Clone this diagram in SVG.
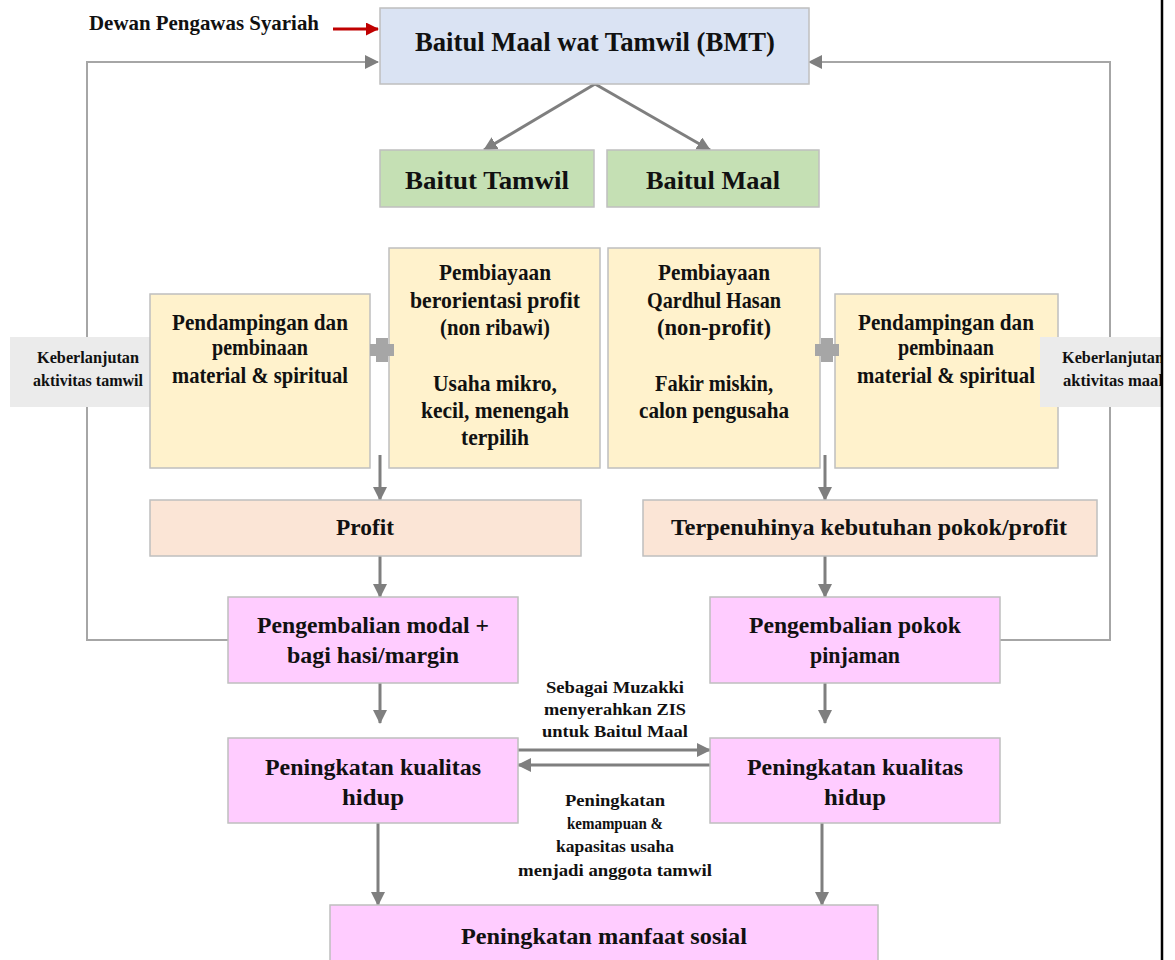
<svg xmlns="http://www.w3.org/2000/svg" width="1175" height="960" viewBox="0 0 1175 960">
<defs>
<marker id="ah" viewBox="0 0 14 14" refX="13" refY="7" markerWidth="14" markerHeight="14" orient="auto" markerUnits="userSpaceOnUse"><path d="M0,0 L14,7 L0,14 z" fill="#7f7f7f"/></marker>
<marker id="ahr" viewBox="0 0 14 14" refX="13" refY="7" markerWidth="13" markerHeight="13" orient="auto" markerUnits="userSpaceOnUse"><path d="M0,0 L14,7 L0,14 z" fill="#c00000"/></marker>
<style>
text{font-family:"Liberation Serif","Times New Roman",Times,serif;font-weight:bold;fill:#111;text-anchor:middle}
.t27{font-size:27px}
.t26{font-size:26px}
.t23{font-size:23px}
.t17{font-size:17px}
.box{stroke:#bfbfbf;stroke-width:1.5}
.blue{fill:#dae3f3}.green{fill:#c5e0b4}.yel{fill:#fff2cc}.peach{fill:#fbe5d6}.pink{fill:#ffccff}.grey{fill:#ebebeb;stroke:none}
.c{fill:none;stroke:#7f7f7f;stroke-width:3}
.ln{fill:none;stroke:#a6a6a6;stroke-width:2}
.plus{fill:#a6a6a6}
</style>
</defs>
<rect width="1175" height="960" fill="#fff"/>

<g id="connectors">
<path class="ln" d="M228,640 H87 V62 H378" marker-end="url(#ah)"/>
<path class="ln" d="M1000,640 H1110 V62 H809" marker-end="url(#ah)"/>
<path class="c" d="M595,84 L484,150" marker-end="url(#ah)"/>
<path class="c" d="M595,84 L710,150" marker-end="url(#ah)"/>
<path class="c" d="M380,455 V500" marker-end="url(#ah)"/>
<path class="c" d="M825,455 V500" marker-end="url(#ah)"/>
<path class="c" d="M380,556 V597" marker-end="url(#ah)"/>
<path class="c" d="M825,556 V597" marker-end="url(#ah)"/>
<path class="c" d="M380,683 V723" marker-end="url(#ah)"/>
<path class="c" d="M825,683 V723" marker-end="url(#ah)"/>
<path class="c" d="M518,750 H710" marker-end="url(#ah)"/>
<path class="c" d="M710,765 H518" marker-end="url(#ah)"/>
<path class="c" d="M378,823 V905" marker-end="url(#ah)"/>
<path class="c" d="M822,823 V905" marker-end="url(#ah)"/>
<path d="M333,29 H378" fill="none" stroke="#c00000" stroke-width="3" marker-end="url(#ahr)"/>
</g>

<g id="dps"><text x="204" y="30" style="font-size:21px" textLength="230" lengthAdjust="spacingAndGlyphs">Dewan Pengawas Syariah</text></g>

<g id="bmt"><rect class="box blue" x="380" y="8" width="429" height="76"/><text class="t27" x="595" y="51" textLength="360" lengthAdjust="spacingAndGlyphs">Baitul Maal wat Tamwil (BMT)</text></g>

<g id="baitut-tamwil"><rect class="box green" x="380" y="150" width="214" height="57"/><text class="t26" x="487" y="189" textLength="164" lengthAdjust="spacingAndGlyphs">Baitut Tamwil</text></g>
<g id="baitul-maal"><rect class="box green" x="607" y="150" width="212" height="57"/><text class="t26" x="713" y="189" textLength="134" lengthAdjust="spacingAndGlyphs">Baitul Maal</text></g>

<g id="ket-tamwil"><rect class="grey" x="10" y="337" width="157" height="70"/><text class="t17" x="88" y="363" textLength="102" lengthAdjust="spacingAndGlyphs">Keberlanjutan</text><text class="t17" x="88" y="386" textLength="110" lengthAdjust="spacingAndGlyphs">aktivitas tamwil</text></g>

<g id="pendampingan-l"><rect class="box yel" x="150" y="294" width="220" height="174"/>
<text class="t23" x="260" y="330" textLength="176" lengthAdjust="spacingAndGlyphs">Pendampingan dan</text><text class="t23" x="260" y="355" textLength="96" lengthAdjust="spacingAndGlyphs">pembinaan</text><text class="t23" x="260" y="383" textLength="176" lengthAdjust="spacingAndGlyphs">material &amp; spiritual</text></g>

<g id="pembiayaan-profit"><rect class="box yel" x="389" y="248" width="211" height="220"/>
<text class="t23" x="495" y="280" textLength="112" lengthAdjust="spacingAndGlyphs">Pembiayaan</text><text class="t23" x="495" y="308" textLength="170" lengthAdjust="spacingAndGlyphs">berorientasi profit</text><text class="t23" x="495" y="335" textLength="110" lengthAdjust="spacingAndGlyphs">(non ribawi)</text>
<text class="t23" x="495" y="391" textLength="124" lengthAdjust="spacingAndGlyphs">Usaha mikro,</text><text class="t23" x="495" y="418" textLength="148" lengthAdjust="spacingAndGlyphs">kecil, menengah</text><text class="t23" x="495" y="445" textLength="68" lengthAdjust="spacingAndGlyphs">terpilih</text></g>

<g id="plus-l"><path class="plus" d="M376,338 h12 v6 h6 v12 h-6 v6 h-12 v-6 h-6 v-12 h6 z"/></g>

<g id="pembiayaan-qardhul"><rect class="box yel" x="608" y="248" width="212" height="220"/>
<text class="t23" x="714" y="280" textLength="112" lengthAdjust="spacingAndGlyphs">Pembiayaan</text><text class="t23" x="714" y="308" textLength="134" lengthAdjust="spacingAndGlyphs">Qardhul Hasan</text><text class="t23" x="714" y="335" textLength="114" lengthAdjust="spacingAndGlyphs">(non-profit)</text>
<text class="t23" x="714" y="391" textLength="118" lengthAdjust="spacingAndGlyphs">Fakir miskin,</text><text class="t23" x="714" y="418" textLength="150" lengthAdjust="spacingAndGlyphs">calon pengusaha</text></g>

<g id="pendampingan-r"><rect class="box yel" x="835" y="294" width="223" height="174"/>
<text class="t23" x="946" y="330" textLength="176" lengthAdjust="spacingAndGlyphs">Pendampingan dan</text><text class="t23" x="946" y="355" textLength="96" lengthAdjust="spacingAndGlyphs">pembinaan</text><text class="t23" x="946" y="383" textLength="178" lengthAdjust="spacingAndGlyphs">material &amp; spiritual</text></g>

<g id="plus-r"><path class="plus" d="M821,338 h12 v6 h6 v12 h-6 v6 h-12 v-6 h-6 v-12 h6 z"/></g>

<g id="ket-maal"><rect class="grey" x="1040" y="337" width="160" height="70"/><text class="t17" x="1113" y="363" textLength="102" lengthAdjust="spacingAndGlyphs">Keberlanjutan</text><text class="t17" x="1113" y="386" textLength="100" lengthAdjust="spacingAndGlyphs">aktivitas maal</text></g>

<g id="profit"><rect class="box peach" x="150" y="500" width="431" height="56"/><text class="t23" x="365" y="535" textLength="58" lengthAdjust="spacingAndGlyphs">Profit</text></g>
<g id="terpenuhinya"><rect class="box peach" x="643" y="500" width="454" height="56"/><text class="t23" x="869" y="535" textLength="396" lengthAdjust="spacingAndGlyphs">Terpenuhinya kebutuhan pokok/profit</text></g>

<g id="pengembalian-modal"><rect class="box pink" x="228" y="597" width="290" height="86"/><text class="t23" x="373" y="633" textLength="232" lengthAdjust="spacingAndGlyphs">Pengembalian modal +</text><text class="t23" x="373" y="663" textLength="172" lengthAdjust="spacingAndGlyphs">bagi hasi/margin</text></g>
<g id="pengembalian-pokok"><rect class="box pink" x="710" y="597" width="290" height="86"/><text class="t23" x="855" y="633" textLength="212" lengthAdjust="spacingAndGlyphs">Pengembalian pokok</text><text class="t23" x="855" y="663" textLength="90" lengthAdjust="spacingAndGlyphs">pinjaman</text></g>

<g id="label-zis"><text class="t17" x="615" y="693" textLength="138" lengthAdjust="spacingAndGlyphs">Sebagai Muzakki</text><text class="t17" x="615" y="715" textLength="142" lengthAdjust="spacingAndGlyphs">menyerahkan ZIS</text><text class="t17" x="615" y="737" textLength="146" lengthAdjust="spacingAndGlyphs">untuk Baitul Maal</text></g>

<g id="kualitas-l"><rect class="box pink" x="228" y="738" width="290" height="85"/><text class="t23" x="373" y="775" textLength="216" lengthAdjust="spacingAndGlyphs">Peningkatan kualitas</text><text class="t23" x="373" y="805" textLength="62" lengthAdjust="spacingAndGlyphs">hidup</text></g>
<g id="kualitas-r"><rect class="box pink" x="710" y="738" width="290" height="85"/><text class="t23" x="855" y="775" textLength="216" lengthAdjust="spacingAndGlyphs">Peningkatan kualitas</text><text class="t23" x="855" y="805" textLength="62" lengthAdjust="spacingAndGlyphs">hidup</text></g>

<g id="label-kemampuan"><text class="t17" x="615" y="806" textLength="100" lengthAdjust="spacingAndGlyphs">Peningkatan</text><text class="t17" x="615" y="829" textLength="96" lengthAdjust="spacingAndGlyphs">kemampuan &amp;</text><text class="t17" x="615" y="852" textLength="118" lengthAdjust="spacingAndGlyphs">kapasitas usaha</text><text class="t17" x="615" y="876" textLength="194" lengthAdjust="spacingAndGlyphs">menjadi anggota tamwil</text></g>

<g id="manfaat"><rect class="box pink" x="330" y="905" width="548" height="60"/><text class="t23" x="604" y="944" textLength="286" lengthAdjust="spacingAndGlyphs">Peningkatan manfaat sosial</text></g>

<rect x="1162" y="0" width="13" height="960" fill="#fff"/>
<line x1="1162" y1="0" x2="1162" y2="960" stroke="#000" stroke-width="2.5"/>
</svg>
